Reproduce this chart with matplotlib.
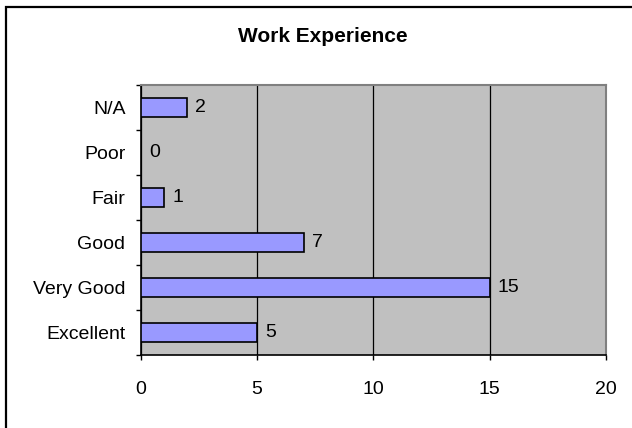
import matplotlib
matplotlib.use("Agg")
import matplotlib.pyplot as plt
from matplotlib.patches import Rectangle

categories = ["Excellent", "Very Good", "Good", "Fair", "Poor", "N/A"]
values = [5, 15, 7, 1, 0, 2]
xticks = [0, 5, 10, 15, 20]
title = "Work Experience"

plt.rcParams['font.family'] = ['Liberation Sans', 'DejaVu Sans']

fig = plt.figure(figsize=(6.32, 4.28), dpi=100)
fig.patch.set_facecolor('white')
# outer border
fig.patches.append(Rectangle((5.5/632, -0.01), 2.0, 1.0 - 7/428 + 0.01, transform=fig.transFigure,
                             fill=False, edgecolor='black', linewidth=1.6, zorder=0))

ax = fig.add_axes([140.7/632, (428-355)/428, (606-140.7)/632, (355-85)/428])
ax.set_facecolor('#C0C0C0')
ypos = list(range(len(categories)))
ax.barh(ypos, values, height=0.44, color='#9999FF', edgecolor='black', linewidth=1.2, zorder=3)
for y, v in zip(ypos, values):
    ax.text(v + 0.35, y, str(v), va='center', ha='left', fontsize=14, zorder=4)

ax.set_xlim(0, 20)
ax.set_ylim(-0.5, len(categories) - 0.5)
ax.set_xticks(xticks)
ax.set_xticklabels([str(t) for t in xticks], fontsize=14)
ax.set_yticks(ypos)
ax.set_yticklabels(categories, fontsize=14)
ax.tick_params(axis='y', length=0, pad=11)
ax.set_yticks([i - 0.5 for i in range(len(categories) + 1)], minor=True)
ax.tick_params(axis='y', which='minor', length=3.5, width=1, direction='out')
ax.tick_params(axis='x', length=3.5, width=1, direction='out', pad=15)
ax.grid(axis='x', color='black', linewidth=0.9, zorder=1)
ax.set_axisbelow(True)
for s in ['top', 'right']:
    ax.spines[s].set_color('#808080')
    ax.spines[s].set_linewidth(1.5)
for s in ['left', 'bottom']:
    ax.spines[s].set_color('black')
    ax.spines[s].set_linewidth(1.2)

fig.text(0.5 * (238 + 407) / 632, 1 - 36/428, title, ha='center', va='center', fontsize=15, fontweight='bold')

fig.savefig("out.png", dpi=100)
